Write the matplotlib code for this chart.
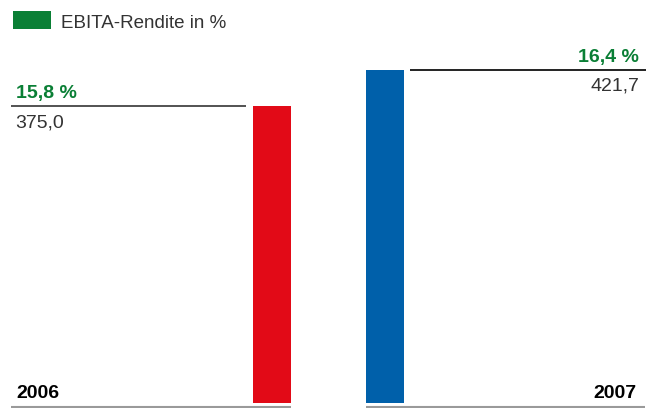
import matplotlib
matplotlib.use('Agg')
import matplotlib.pyplot as plt
from matplotlib.patches import Rectangle

plt.rcParams['font.family'] = ['Liberation Sans', 'DejaVu Sans']

# data
years = ['2006', '2007']
values = [375.0, 421.7]
value_labels = ['375,0', '421,7']
margins = ['15,8 %', '16,4 %']
legend_label = 'EBITA-Rendite in %'

bar_colors = ['#e20a17', '#0060aa']
green = '#0a7f35'

W, H = 654, 408
fig = plt.figure(figsize=(W / 100, H / 100), dpi=100)
ax = fig.add_axes([0, 0, 1, 1])

# y axis in data units; bar bottom sits at pixel row ~403
scale = 0.7915          # px per unit
y0 = 403.3              # pixel row of value 0
ax.set_xlim(0, W)
ax.set_ylim((y0 - H) / scale, y0 / scale)
ax.axis('off')

def v(py):
    # pixel row -> data value
    return (y0 - py) / scale

bar_x = [272, 385]
ax.bar(bar_x, values, width=38, color=bar_colors, linewidth=0)

# value lines at bar tops
ax.plot([11, 246], [values[0], values[0]], color='#444444', lw=1.3, solid_capstyle='butt')
ax.plot([410, 646], [values[1], values[1]], color='#111111', lw=1.3, solid_capstyle='butt')

# base lines
ax.plot([11, 291], [v(407.3), v(407.3)], color='#9a9a9a', lw=1.5, solid_capstyle='butt')
ax.plot([366, 645], [v(407.3), v(407.3)], color='#9a9a9a', lw=1.5, solid_capstyle='butt')

# labels 2006 (left aligned)
ax.text(16, values[0] + v(0) - v(8.5), margins[0], color=green, fontsize=14,
        fontweight='bold', ha='left', va='baseline')
ax.text(15, values[0] - (v(105.7) - v(126.5)), value_labels[0], color='#333333',
        fontsize=14, ha='left', va='baseline')
ax.text(16, v(398.5), years[0], color='black', fontsize=14, fontweight='bold',
        ha='left', va='baseline')

# labels 2007 (right aligned)
ax.text(639, values[1] + v(0) - v(8), margins[1], color=green, fontsize=14,
        fontweight='bold', ha='right', va='baseline')
ax.text(639, values[1] - (v(70.7) - v(91.5)), value_labels[1], color='#333333',
        fontsize=14, ha='right', va='baseline')
ax.text(637, v(398.5), years[1], color='black', fontsize=14, fontweight='bold',
        ha='right', va='baseline')

# legend
ax.add_patch(Rectangle((13, v(29)), 38, v(11) - v(29), color=green, lw=0))
ax.text(61, v(27.5), legend_label, color='#333333', fontsize=13.5,
        ha='left', va='baseline')

fig.savefig('out.png', dpi=100)
